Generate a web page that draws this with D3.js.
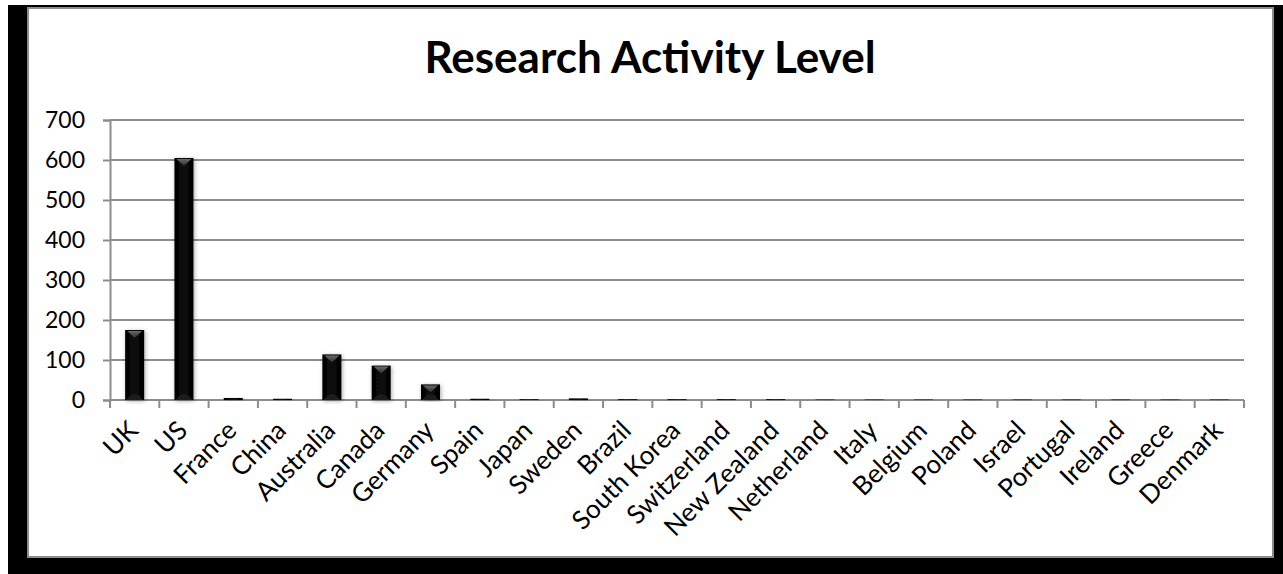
<!DOCTYPE html>
<html>
<head>
<meta charset="utf-8">
<script src="https://cdn.jsdelivr.net/npm/d3@7"></script>
<style>
  body { margin: 0; background: #fff; }
  svg { display: block; }
</style>
</head>
<body>
<div id="chart"></div>
<script>
// values
const countries = ['UK','US','France','China','Australia','Canada','Germany','Spain','Japan','Sweden',
  'Brazil','South Korea','Switzerland','New Zealand','Netherland','Italy','Belgium','Poland','Israel',
  'Portugal','Ireland','Greece','Denmark']
const activity = [175,605,5,3,114,86,39,3,2,4,2,2,2,2,1,1,1,1,1,1,1,1,1]
const yTicks = [0,100,200,300,400,500,600,700]
const title = 'Research Activity Level'

const W = 1283, H = 574
const font = "Lato, 'Open Sans', sans-serif"

const svg = d3.select('#chart').append('svg')
  .attr('width', W)
  .attr('height', H)

const defs = svg.append('defs')
const bev = defs.append('linearGradient').attr('id','bevel').attr('x1',0).attr('y1',0).attr('x2',0).attr('y2',1)
bev.append('stop').attr('offset','0%').attr('stop-color','#6a6a6a')
bev.append('stop').attr('offset','100%').attr('stop-color','#2a2a2a')
const body = defs.append('linearGradient').attr('id','barBody').attr('x1',0).attr('y1',0).attr('x2',1).attr('y2',0)
body.append('stop').attr('offset','0%').attr('stop-color','#000')
body.append('stop').attr('offset','50%').attr('stop-color','#0d0d0d')
body.append('stop').attr('offset','100%').attr('stop-color','#000')
const sh = defs.append('filter').attr('id','shadow').attr('x','-50%').attr('y','-10%').attr('width','200%').attr('height','120%')
sh.append('feDropShadow').attr('dx',1).attr('dy',1).attr('stdDeviation',2).attr('flood-color','#000').attr('flood-opacity',0.35)

// black frame and white panel
svg.append('rect').attr('x',8).attr('y',5).attr('width',W-8).attr('height',H-5).attr('fill','#000')
svg.append('rect').attr('x',28).attr('y',8).attr('width',1245).attr('height',549)
  .attr('fill','#fff').attr('stroke','#8c8c8c').attr('stroke-width',2)

svg.append('text')
  .attr('x',650).attr('y',73)
  .attr('text-anchor','middle')
  .attr('font-family',font)
  .attr('font-weight','bold')
  .attr('font-size','44px')
  .attr('fill','#000')
  .text(title)

const margin = {left:110, right:1244, top:120, bottom:400}

const x = d3.scaleBand().domain(countries).range([margin.left, margin.right]).paddingInner(0).paddingOuter(0)
const y = d3.scaleLinear().domain([0,700]).range([margin.bottom, margin.top])

// gridlines
svg.append('g').selectAll('line')
  .data(yTicks.filter(d => d > 0))
  .join('line')
  .attr('x1', margin.left).attr('x2', margin.right)
  .attr('y1', d => y(d)).attr('y2', d => y(d))
  .attr('stroke','#8c8c8c').attr('stroke-width',2)

// y axis
const yAxis = svg.append('g')
  .attr('transform', `translate(${margin.left},0)`)
  .call(d3.axisLeft(y).tickValues(yTicks).tickSize(7).tickPadding(18))
yAxis.select('.domain').attr('stroke','#8c8c8c').attr('stroke-width',2)
yAxis.selectAll('.tick line').attr('stroke','#8c8c8c').attr('stroke-width',2)
yAxis.selectAll('.tick text')
  .attr('font-family',font).attr('font-size','23px').attr('fill','#000')

// x axis: ticks between categories
const xAxis = svg.append('g')
  .attr('transform', `translate(0,${margin.bottom})`)
xAxis.append('line')
  .attr('x1', margin.left).attr('x2', margin.right)
  .attr('stroke','#8c8c8c').attr('stroke-width',2)
const bounds = countries.map(c => x(c)).concat([margin.right])
xAxis.selectAll('.xtick')
  .data(bounds)
  .join('line')
  .attr('class','xtick')
  .attr('x1', d => d).attr('x2', d => d)
  .attr('y1', 0).attr('y2', 8)
  .attr('stroke','#8c8c8c').attr('stroke-width',2)
xAxis.selectAll('.xlabel')
  .data(countries)
  .join('text')
  .attr('class','xlabel')
  .attr('transform', d => `translate(${x(d) + x.bandwidth()/2 + 5},${32}) rotate(-45)`)
  .attr('text-anchor','end')
  .attr('font-family',font)
  .attr('font-size','26px')
  .attr('fill','#000')
  .text(d => d)

// bars
const bw = 19
const bars = svg.append('g').selectAll('g')
  .data(countries.map((c,i) => ({c, v: activity[i]})))
  .join('g')
  .attr('transform', d => `translate(${x(d.c) + x.bandwidth()/2 - bw/2},0)`)

bars.append('rect')
  .attr('x',0).attr('width',bw)
  .attr('y', d => y(d.v))
  .attr('height', d => y(0) - y(d.v))
  .attr('fill','url(#barBody)')
  .attr('filter','url(#shadow)')

bars.filter(d => y(0) - y(d.v) > 10)
  .append('path')
  .attr('d', d => {
    const t = y(d.v) + 1
    return `M2,${t} L${bw-2},${t} L${bw/2},${t+7} Z`
  })
  .attr('fill','url(#bevel)')

bars.filter(d => y(0) - y(d.v) > 10)
  .append('path')
  .attr('d', d => {
    const b = y(0)
    return `M1,${b} Q${bw/2},${b-12} ${bw-1},${b} Z`
  })
  .attr('fill','#1c1c1c')
</script>
</body>
</html>
